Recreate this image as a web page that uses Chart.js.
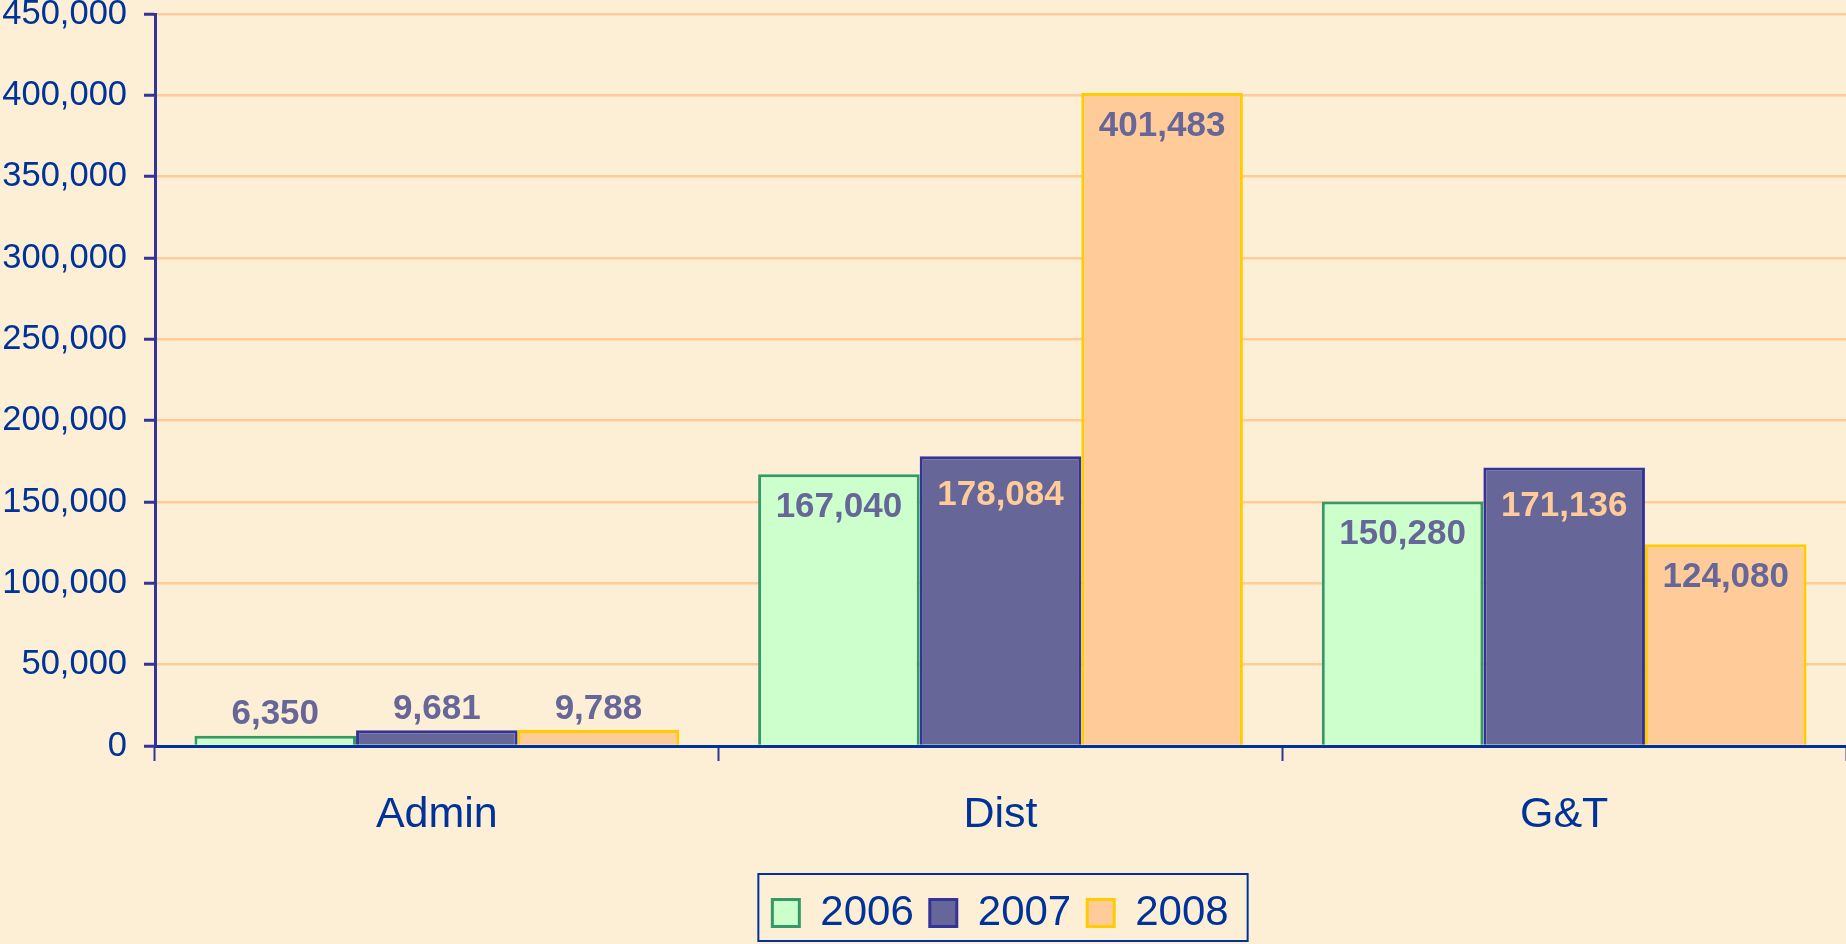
<!DOCTYPE html>
<html>
<head>
<meta charset="utf-8">
<script src="https://cdn.jsdelivr.net/npm/chart.js@4.4.1/dist/chart.umd.min.js"></script>
<style>
  html, body { margin: 0; padding: 0; background: #fcefd5; }
  #wrap { width: 1846px; height: 944px; position: relative; }
</style>
</head>
<body>
<div id="wrap"><canvas id="costChart"></canvas></div>
<script>
const categories = ["Admin", "Dist", "G&T"];
const years = ["2006", "2007", "2008"];
const values2006 = [6350, 167040, 150280];
const values2007 = [9681, 178084, 171136];
const values2008 = [9788, 401483, 124080];

const FONT = "'Liberation Sans', Arial, sans-serif";

// value labels: inside the top of tall bars, above short ones
const barLabels = {
  id: "barLabels",
  afterDatasetsDraw(chart) {
    const c = chart.ctx;
    c.save();
    c.font = "bold 35px " + FONT;
    c.textAlign = "center";
    c.textBaseline = "middle";
    chart.data.datasets.forEach((ds, i) => {
      chart.getDatasetMeta(i).data.forEach((bar, j) => {
        const h = bar.base - bar.y;
        const txt = ds.data[j].toLocaleString("en-US");
        if (h > 80) {
          c.fillStyle = ds.labelColor;
          c.fillText(txt, bar.x, bar.y + ds.labelOffset);
        } else {
          c.fillStyle = "#666699";
          c.fillText(txt, bar.x, bar.y - 21);
        }
      });
    });
    c.restore();
  }
};

// legend is centred under the plot area, with a frame round it
const legendFrame = {
  id: "legendFrame",
  afterLayout(chart) {
    const lg = chart.legend;
    const area = chart.chartArea;
    const shift = (area.left + area.right) / 2 - (lg.left + lg.right) / 2;
    lg.left += shift;
    lg.right += shift;
    lg.adjustHitBoxes();
  },
  afterDraw(chart) {
    const lg = chart.legend;
    if (!lg || !lg.legendHitBoxes.length) return;
    const boxes = lg.legendHitBoxes;
    const left = boxes[0].left - 14;
    const last = boxes[boxes.length - 1];
    const right = last.left + last.width + 19;
    const c = chart.ctx;
    c.save();
    c.strokeStyle = "#003399";
    c.lineWidth = 2;
    c.strokeRect(left, lg.top - 2, right - left, lg.bottom - lg.top - 1);
    c.restore();
  }
};

new Chart(document.getElementById("costChart"), {
  type: "bar",
  data: {
    labels: categories,
    datasets: [
      {
        label: years[0], data: values2006,
        backgroundColor: "#ccffcc", borderColor: "#339966", borderWidth: 3,
        labelColor: "#666699", labelOffset: 33
      },
      {
        label: years[1], data: values2007,
        backgroundColor: "#666699", borderColor: "#333399", borderWidth: 3,
        labelColor: "#ffcc99", labelOffset: 39
      },
      {
        label: years[2], data: values2008,
        backgroundColor: "#ffcc99", borderColor: "#ffcc00", borderWidth: 3,
        labelColor: "#666699", labelOffset: 33
      }
    ]
  },
  options: {
    responsive: true,
    maintainAspectRatio: false,
    animation: false,
    layout: { padding: { top: 14, left: 0, right: 0, bottom: 0 } },
    datasets: { bar: { categoryPercentage: 0.86, barPercentage: 1.0 } },
    plugins: {
      tooltip: { enabled: false },
      legend: {
        position: "bottom",
        labels: {
          color: "#003399",
          font: { family: FONT, size: 42 },
          boxWidth: 27,
          boxHeight: 27,
          padding: 16
        }
      }
    },
    scales: {
      x: {
        z: 1,
        grid: {
          offset: true,
          drawOnChartArea: false,
          tickLength: 15,
          tickColor: "#333399",
          tickWidth: 2
        },
        border: { color: "#003399", width: 3 },
        ticks: { color: "#003399", font: { family: FONT, size: 43 }, padding: 28 },
        afterFit(scale) {
          scale.height = 130;
          scale.paddingLeft = 0;
          scale.paddingRight = 0;
        }
      },
      y: {
        min: 0,
        max: 450000,
        grid: {
          color: "#ffcc99",
          lineWidth: 2.5,
          tickLength: 11,
          tickColor: "#333399",
          tickWidth: 3
        },
        border: { color: "#333399", width: 3 },
        ticks: {
          stepSize: 50000,
          color: "#003399",
          font: { family: FONT, size: 34.5 },
          padding: 17,
          callback: v => v.toLocaleString("en-US")
        },
        afterFit(scale) {
          scale.width = 155;
          scale.paddingTop = 0;
          scale.paddingBottom = 0;
        }
      }
    }
  },
  plugins: [barLabels, legendFrame]
});
</script>
</body>
</html>
